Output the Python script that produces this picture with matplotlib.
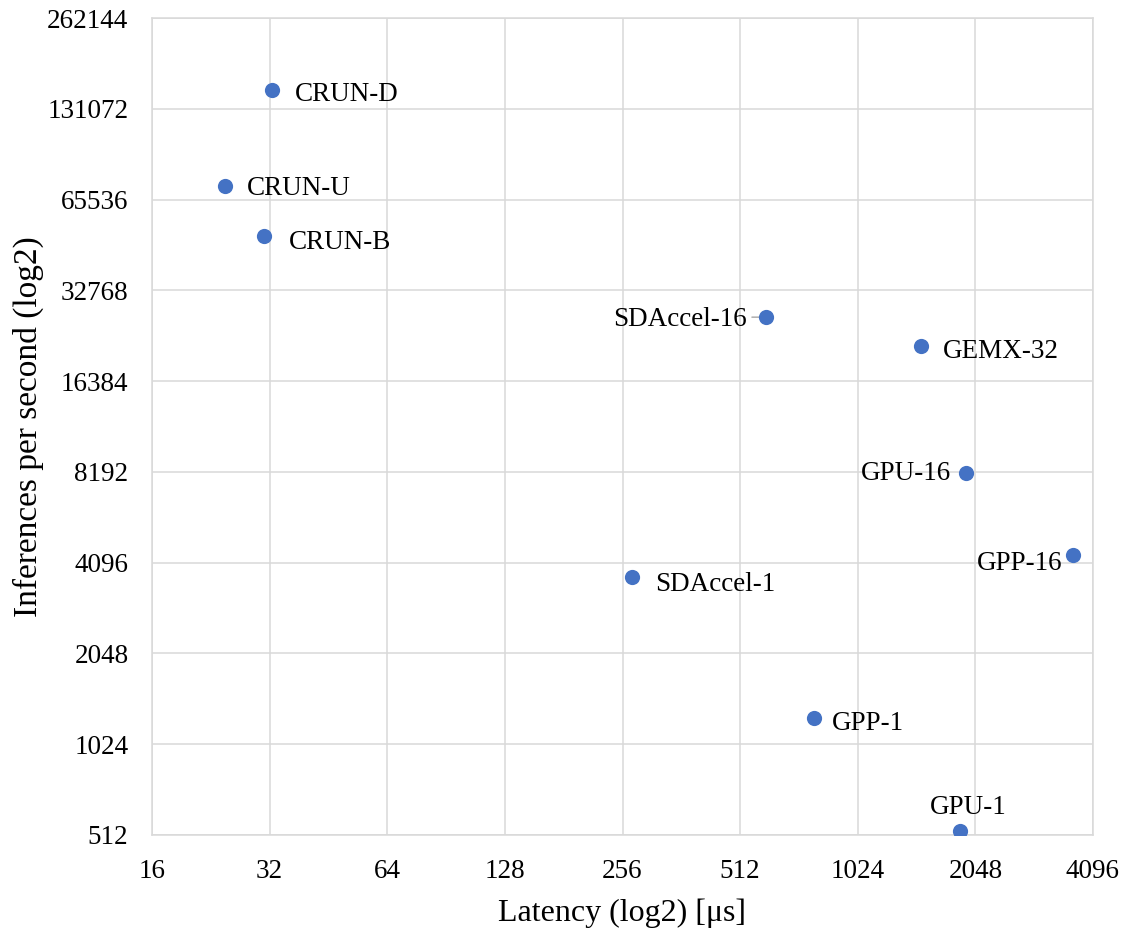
import matplotlib
matplotlib.use("Agg")
import matplotlib.pyplot as plt
from matplotlib.ticker import FixedLocator, FixedFormatter, NullLocator

# Data
names = ["CRUN-D", "CRUN-U", "CRUN-B", "SDAccel-16", "GEMX-32",
         "GPU-16", "GPP-16", "SDAccel-1", "GPP-1", "GPU-1"]
latency_us = [32.4, 24.6, 30.9, 596, 1483, 1943, 3643, 270, 791, 1875]
inferences = [151000, 72700, 49600, 26700, 21400, 8130, 4350, 3676, 1253, 528]

x_ticks = [16, 32, 64, 128, 256, 512, 1024, 2048, 4096]
y_ticks = [512, 1024, 2048, 4096, 8192, 16384, 32768, 65536, 131072, 262144]

# label offsets in pixels (dx, dy, ha)
label_pos = {
    "CRUN-D": (23, -4, "left"),
    "CRUN-U": (22, -3, "left"),
    "CRUN-B": (25, -6, "left"),
    "SDAccel-16": (-19, -2, "right"),
    "GEMX-32": (22, -5, "left"),
    "GPU-16": (-15, -1, "right"),
    "GPP-16": (-11, -9, "right"),
    "SDAccel-1": (24, -8, "left"),
    "GPP-1": (18, -6, "left"),
    "GPU-1": (8, 23, "center"),
}

plt.rcParams["font.family"] = ["Liberation Serif", "DejaVu Serif"]
grid_col = "#d9d9d9"

fig = plt.figure(figsize=(11.31, 9.33), dpi=100)
ax = fig.add_axes([152 / 1131, 98 / 933, 941 / 1131, 817 / 933])

ax.scatter(latency_us, inferences, s=120, color="#4472C4", zorder=3, linewidths=0)

for name, x, y in zip(names, latency_us, inferences):
    dx, dy, ha = label_pos[name]
    ax.annotate(name, (x, y), xytext=(dx, dy), textcoords="offset pixels",
                ha=ha, va="center", fontsize=19.5, color="black", zorder=4)

# small leader line for SDAccel-16
i = names.index("SDAccel-16")
ax.annotate("", (latency_us[i], inferences[i]), xytext=(-14, 0), textcoords="offset pixels",
            arrowprops=dict(arrowstyle="-", color="#a6a6a6", lw=1, shrinkA=0, shrinkB=2), zorder=2)

ax.set_xscale("log", base=2)
ax.set_yscale("log", base=2)
ax.set_xlim(16, 4096)
ax.set_ylim(512, 262144)

ax.xaxis.set_major_locator(FixedLocator(x_ticks))
ax.xaxis.set_major_formatter(FixedFormatter([str(v) for v in x_ticks]))
ax.yaxis.set_major_locator(FixedLocator(y_ticks))
ax.yaxis.set_major_formatter(FixedFormatter([str(v) for v in y_ticks]))
ax.xaxis.set_minor_locator(NullLocator())
ax.yaxis.set_minor_locator(NullLocator())

ax.tick_params(axis="both", length=0, labelsize=19.5)
ax.tick_params(axis="x", pad=17)
ax.tick_params(axis="y", pad=17)

ax.grid(True, color=grid_col, linewidth=1.1, zorder=0)
ax.set_axisbelow(True)
for sp in ax.spines.values():
    sp.set_color(grid_col)
    sp.set_linewidth(1.1)

ax.set_xlabel("Latency (log2) [μs]", fontsize=23, labelpad=11)
ax.set_ylabel("Inferences per second (log2)", fontsize=24, labelpad=2)

fig.savefig("out.png", dpi=100)
